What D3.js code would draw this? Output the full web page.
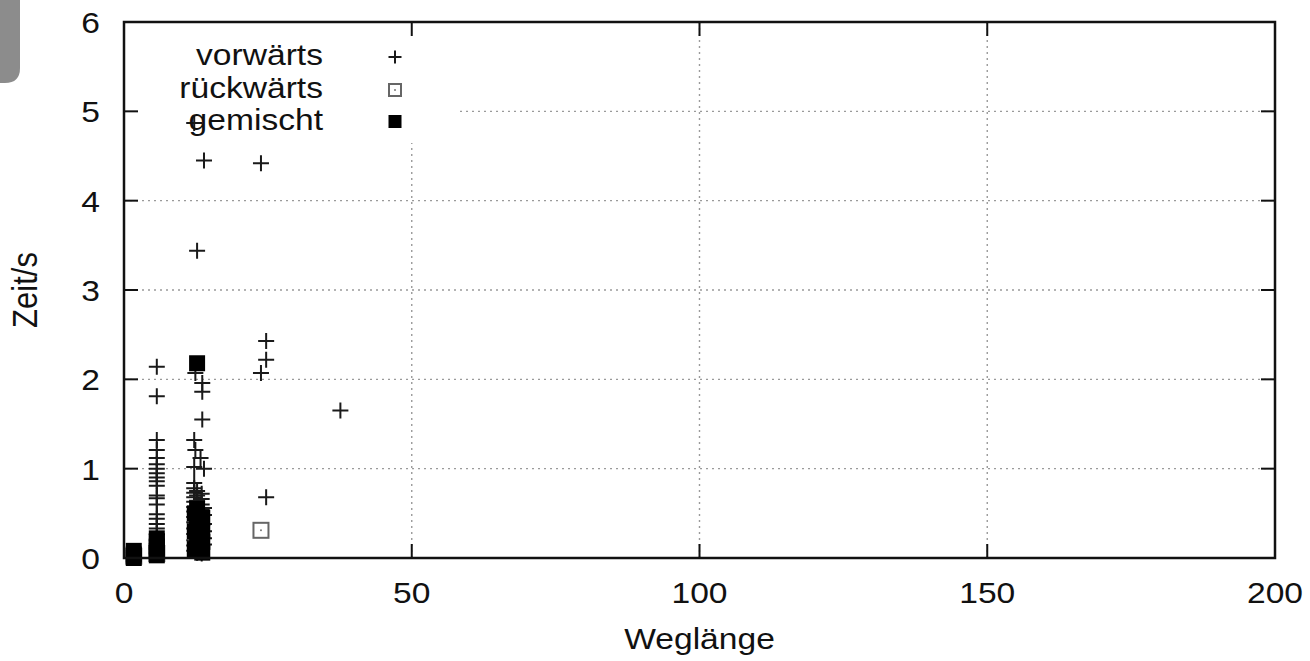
<!DOCTYPE html>
<html>
<head>
<meta charset="utf-8">
<script src="https://cdn.jsdelivr.net/npm/d3@7"></script>
<style>
    body { margin: 0; background: #fff; }
    text { font-family: "Liberation Sans", Arial, Helvetica, sans-serif; fill: #111; }
</style>
</head>
<body>
<div id="chart"></div>
<script>
// DATA
var xTicks = [0, 50, 100, 150, 200];
var yTicks = [0, 1, 2, 3, 4, 5, 6];
var seriesNames = ["vorwärts", "rückwärts", "gemischt"];

// vorwärts: [Weglänge, Zeit/s]
var forwardPoints = [
    [1.7, 0.03], [1.7, 0.06],
    [5.7, 2.14], [5.7, 1.81], [5.7, 1.32], [5.7, 1.21], [5.7, 1.12], [5.7, 1.05],
    [5.7, 1.0], [5.7, 0.95], [5.7, 0.9], [5.7, 0.86], [5.7, 0.81], [5.7, 0.7],
    [5.7, 0.67], [5.7, 0.6], [5.7, 0.49], [5.7, 0.44], [5.7, 0.38], [5.7, 0.33],
    [5.7, 0.27], [5.7, 0.2], [5.7, 0.12], [5.7, 0.05],
    [12.2, 4.87], [12.4, 2.07], [12.2, 1.32], [12.4, 1.21], [12.2, 1.02],
    [12.2, 0.84], [12.2, 0.78], [12.2, 0.73], [12.2, 0.68], [12.2, 0.63], [12.2, 0.57],
    [12.2, 0.52], [12.2, 0.46], [12.2, 0.4], [12.2, 0.33], [12.2, 0.27], [12.2, 0.2],
    [12.2, 0.14], [12.2, 0.08],
    [12.7, 3.44], [12.7, 0.75], [12.7, 0.7], [12.7, 0.64], [12.7, 0.55], [12.7, 0.43],
    [12.7, 0.3], [12.7, 0.18], [12.7, 0.06],
    [13.9, 4.45], [13.6, 1.96], [13.6, 1.86], [13.6, 1.55], [13.3, 1.12], [13.9, 1.0],
    [13.5, 0.72], [13.5, 0.66], [13.5, 0.6], [13.5, 0.54], [13.5, 0.5], [13.5, 0.44],
    [13.5, 0.36], [13.5, 0.28], [13.5, 0.2], [13.5, 0.12], [13.5, 0.05],
    [13.9, 0.56], [13.9, 0.48], [13.9, 0.38], [13.9, 0.3], [13.9, 0.22], [13.9, 0.15],
    [23.8, 4.42], [24.7, 2.43], [24.7, 2.22], [23.8, 2.07], [24.7, 0.68],
    [37.6, 1.65]
];

// rückwärts
var backwardPoints = [
    [1.7, 0.02], [5.7, 0.05], [12.7, 0.1], [23.8, 0.31]
];

// gemischt
var mixedPoints = [
    [1.7, 0.0], [1.7, 0.04], [1.7, 0.08],
    [5.7, 0.03], [5.7, 0.08], [5.7, 0.13], [5.7, 0.18], [5.7, 0.22],
    [12.7, 2.18],
    [12.3, 0.1], [12.3, 0.3], [12.3, 0.5],
    [12.7, 0.08], [12.7, 0.2], [12.7, 0.32], [12.7, 0.42], [12.7, 0.55],
    [13.6, 0.06], [13.6, 0.18], [13.6, 0.3], [13.6, 0.45]
];

// SIZES
var svgWidth = 1310;
var svgHeight = 661;
var margin = { top: 22, right: 35, bottom: 103, left: 124 };
var width = svgWidth - margin.left - margin.right;
var height = svgHeight - margin.top - margin.bottom;
var stretch = 1.12;   // the picture is a bit wider than tall
var tickLen = 14;

var svg = d3.select("#chart").append("svg")
    .attr("width", svgWidth)
    .attr("height", svgHeight);

// grey tab in the top left corner
svg.append("path")
    .attr("d", "M0,0H20V68Q20,83 5,83H0Z")
    .attr("fill", "#8c8c8c");

var chartGroup = svg.append("g")
    .attr("transform", `translate(${margin.left}, ${margin.top})`);

// scales
var xScale = d3.scaleLinear().domain([0, 200]).range([0, width]);
var yScale = d3.scaleLinear().domain([0, 6]).range([height, 0]);

// grid
var grid = chartGroup.append("g")
    .attr("stroke", "#9a9a9a")
    .attr("stroke-width", 1.4)
    .attr("stroke-dasharray", "2,4");
grid.selectAll(".gx")
    .data(xTicks.slice(1, -1))
    .enter().append("line")
    .attr("x1", d => xScale(d)).attr("x2", d => xScale(d))
    .attr("y1", 0).attr("y2", height);
grid.selectAll(".gy")
    .data(yTicks.slice(1, -1))
    .enter().append("line")
    .attr("x1", 0).attr("x2", width)
    .attr("y1", d => yScale(d)).attr("y2", d => yScale(d));

// opaque key box
chartGroup.append("rect")
    .attr("x", 1).attr("y", 1)
    .attr("width", 335).attr("height", 120)
    .attr("fill", "#fff");

// point shapes
var plusPath = s => `M${-s},0H${s}M0,${-s}V${s}`;

function drawPlus(g, data, s) {
    g.selectAll(null).data(data).enter().append("path")
        .attr("transform", d => `translate(${xScale(d[0])},${yScale(d[1])})`)
        .attr("d", plusPath(s))
        .attr("fill", "none")
        .attr("stroke", "#1a1a1a")
        .attr("stroke-width", 2);
}
function drawOpenSquare(g, data, s) {
    var p = g.selectAll(null).data(data).enter().append("g")
        .attr("transform", d => `translate(${xScale(d[0])},${yScale(d[1])})`);
    p.append("rect")
        .attr("x", -s).attr("y", -s).attr("width", 2 * s).attr("height", 2 * s)
        .attr("fill", "none").attr("stroke", "#666").attr("stroke-width", 2);
    p.append("circle").attr("r", 1).attr("fill", "#777");
}
function drawFilledSquare(g, data, s) {
    g.selectAll(null).data(data).enter().append("rect")
        .attr("x", d => xScale(d[0]) - s).attr("y", d => yScale(d[1]) - s)
        .attr("width", 2 * s).attr("height", 2 * s)
        .attr("fill", "#000");
}

var pointsGroup = chartGroup.append("g");
drawPlus(pointsGroup.append("g"), forwardPoints, 8);
drawOpenSquare(pointsGroup.append("g"), backwardPoints, 7.5);
drawFilledSquare(pointsGroup.append("g"), mixedPoints, 8);

// legend
var legend = chartGroup.append("g");
var legendRows = [43, 76, 108];
seriesNames.forEach(function (name, i) {
    legend.append("text")
        .attr("transform", `translate(199, ${legendRows[i]}) scale(${stretch},1)`)
        .attr("text-anchor", "end")
        .attr("font-size", 30)
        .text(name);
});
var sym = legend.append("g").attr("transform", "translate(271, 0)");
sym.append("path")
    .attr("transform", `translate(0, ${legendRows[0] - 8})`)
    .attr("d", plusPath(6.5))
    .attr("stroke", "#1a1a1a").attr("stroke-width", 2).attr("fill", "none");
sym.append("rect")
    .attr("x", -6).attr("y", legendRows[1] - 14).attr("width", 12).attr("height", 12)
    .attr("fill", "none").attr("stroke", "#666").attr("stroke-width", 2);
sym.append("circle").attr("cx", 0).attr("cy", legendRows[1] - 8).attr("r", 1).attr("fill", "#777");
sym.append("rect")
    .attr("x", -6.5).attr("y", legendRows[2] - 15).attr("width", 13).attr("height", 13)
    .attr("fill", "#000");

// frame ticks (inward on all four sides)
var ticks = chartGroup.append("g")
    .attr("stroke", "#111")
    .attr("stroke-width", 2);
xTicks.slice(1, -1).forEach(function (t) {
    ticks.append("line").attr("x1", xScale(t)).attr("x2", xScale(t))
        .attr("y1", height).attr("y2", height - tickLen);
    ticks.append("line").attr("x1", xScale(t)).attr("x2", xScale(t))
        .attr("y1", 0).attr("y2", tickLen);
});
yTicks.slice(1, -1).forEach(function (t) {
    ticks.append("line").attr("x1", 0).attr("x2", tickLen)
        .attr("y1", yScale(t)).attr("y2", yScale(t));
    ticks.append("line").attr("x1", width).attr("x2", width - tickLen)
        .attr("y1", yScale(t)).attr("y2", yScale(t));
});

// frame
chartGroup.append("rect")
    .attr("x", 0).attr("y", 0)
    .attr("width", width).attr("height", height)
    .attr("fill", "none")
    .attr("stroke", "#111")
    .attr("stroke-width", 2.5);

// tick labels
chartGroup.selectAll(".xlab")
    .data(xTicks)
    .enter().append("text")
    .attr("transform", d => `translate(${xScale(d)}, ${height + 45}) scale(${stretch},1)`)
    .attr("text-anchor", "middle")
    .attr("font-size", 30)
    .text(d => d);
chartGroup.selectAll(".ylab")
    .data(yTicks)
    .enter().append("text")
    .attr("transform", d => `translate(-24, ${yScale(d) + 11}) scale(${stretch},1)`)
    .attr("text-anchor", "end")
    .attr("font-size", 30)
    .text(d => d);

// axis titles
chartGroup.append("text")
    .attr("transform", `translate(${width / 2}, ${height + 91}) scale(${stretch},1)`)
    .attr("text-anchor", "middle")
    .attr("font-size", 30)
    .text("Weglänge");
chartGroup.append("text")
    .attr("transform", `translate(${37 - margin.left}, ${height / 2}) scale(${stretch},1) rotate(-90)`)
    .attr("text-anchor", "middle")
    .attr("font-size", 31)
    .text("Zeit/s");
</script>
</body>
</html>
